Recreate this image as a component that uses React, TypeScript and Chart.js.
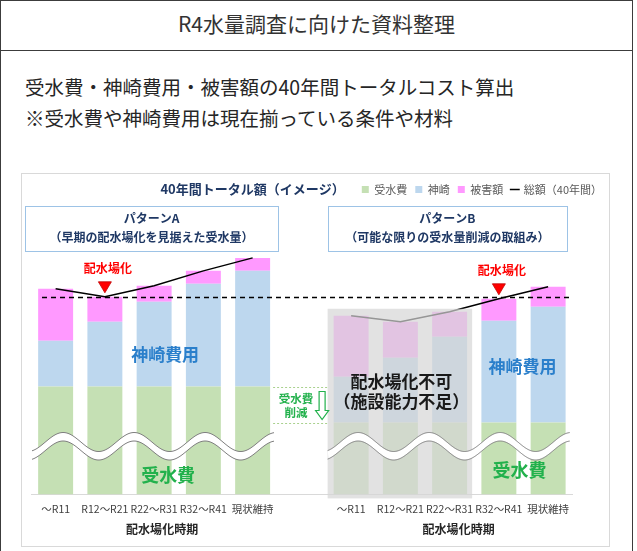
import React, { useEffect, useRef } from "react";
import { Chart, registerables } from "chart.js";

Chart.register(...registerables);

const FONT = "'Noto Sans CJK JP', 'Noto Sans', sans-serif";

// ---- data (image-scale values) ----
const periods = ["～R11", "R12～R21", "R22～R31", "R32～R41", "現状維持", "", "～R11", "R12～R21", "R22～R31", "R32～R41", "現状維持"];
const receivedWaterCost: (number | null)[] = [108, 108, 108, 108, 108, null, 72, 72, 72, 72, 72];
const kanzakiCost: (number | null)[] = [46, 65, 85, 103, 116, null, 46, 65, 86, 102, 116];
const damageCost: (number | null)[] = [52, 25, 16, 13, 13, null, 61, 36, 25, 22, 20];
const totalCost = periods.map((_, i) =>
  receivedWaterCost[i] == null ? null : (receivedWaterCost[i] as number) + (kanzakiCost[i] as number) + (damageCost[i] as number)
);
const seriesNames = ["受水費", "神崎", "被害額", "総額（40年間）"];
const seriesColors = ["#C5E0B4", "#BDD7EE", "#FF99FF", "#000000"];

// ---- texts ----
const pageTitle = "R4水量調査に向けた資料整理";
const pageLines = ["受水費・神崎費用・被害額の40年間トータルコスト算出", "※受水費や神崎費用は現在揃っている条件や材料"];
const chartTitle = "40年間トータル額（イメージ）";
const patternA = ["パターンA", "（早期の配水場化を見据えた受水量）"];
const patternB = ["パターンB", "（可能な限りの受水量削減の取組み）"];
const xAxisTitle = "配水場化時期";
const markerText = "配水場化";
const kanzakiText = "神崎費用";
const waterText = "受水費";
const reductionText = ["受水費", "削減"];
const impossibleText = ["配水場化不可", "（施設能力不足）"];
const markerIndexA = 1;
const markerIndexB = 9;
const blockedRange = [6, 8];

const decorPlugin = {
  id: "decor",
  beforeDraw(chart: any) {
    const { ctx, width, height } = chart;
    ctx.save();
    ctx.fillStyle = "#ffffff";
    ctx.fillRect(0, 0, width, height);
    ctx.strokeStyle = "#d9d9d9";
    ctx.lineWidth = 1;
    ctx.strokeRect(0.5, 0.5, width - 1, height - 1);
    ctx.restore();
  },
  afterDatasetsDraw(chart: any) {
    const { ctx, chartArea: ca } = chart;
    const xs = chart.scales.x;
    const ys = chart.scales.y;
    const px = (i: number) => xs.getPixelForValue(i);
    const py = (v: number) => ys.getPixelForValue(v);
    const barW = chart.getDatasetMeta(0).data[0].width;
    const text = (t: string, x: number, y: number, font: string, color: string, align = "center") => {
      ctx.font = font;
      ctx.fillStyle = color;
      ctx.textAlign = align;
      ctx.textBaseline = "middle";
      ctx.fillText(t, x, y);
    };
    ctx.save();

    // dashed reference line at the A-pattern minimum total
    const yd = Math.round(py(totalCost[markerIndexA] as number)) + 0.5;
    ctx.beginPath();
    ctx.setLineDash([5, 4]);
    ctx.strokeStyle = "#000";
    ctx.lineWidth = 1.3;
    ctx.moveTo(ca.left + 11, yd);
    ctx.lineTo(ca.right, yd);
    ctx.stroke();
    ctx.setLineDash([]);

    // gray overlay on infeasible bars
    const oL = px(blockedRange[0]) - barW / 2 - 6;
    const oR = px(blockedRange[1]) + barW / 2 + 5;
    const maxBlocked = Math.max(...(totalCost.slice(blockedRange[0], blockedRange[1] + 1) as number[]));
    const oT = py(maxBlocked) - 3;
    const oB = ca.bottom + 4;
    ctx.fillStyle = "rgba(214,214,214,0.7)";
    ctx.fillRect(oL, oT, oR - oL, oB - oT);

    // wave (axis break)
    const drawWave = (x0: number, x1: number, xp: number) => {
      const yc = py(52.5);
      const A = 9.5, P = 71, th = 8.5;
      const f = (xx: number) => yc - A * Math.cos((2 * Math.PI * (xx - xp)) / P);
      ctx.beginPath();
      for (let xx = x0; xx <= x1; xx += 1) ctx.lineTo(xx, f(xx));
      for (let xx = x1; xx >= x0; xx -= 1) ctx.lineTo(xx, f(xx) + th);
      ctx.closePath();
      ctx.fillStyle = "#ffffff";
      ctx.fill();
      ctx.strokeStyle = "#7f7f7f";
      ctx.lineWidth = 1;
      ctx.beginPath();
      for (let xx = x0; xx <= x1; xx += 1) ctx.lineTo(xx, f(xx));
      ctx.stroke();
      ctx.beginPath();
      for (let xx = x0; xx <= x1; xx += 1) ctx.lineTo(xx, f(xx) + th);
      ctx.stroke();
    };
    drawWave(ca.left + 1, px(4) + barW / 2 + 4, px(0) + 7.5);
    drawWave(oL, px(10) + barW / 2 + 5, px(6) + 7);

    // red markers
    const marker = (i: number) => {
      const cx = px(i);
      const tip = py(totalCost[i] as number) - 4;
      ctx.beginPath();
      ctx.moveTo(cx - 6.5, tip - 11);
      ctx.lineTo(cx + 6.5, tip - 11);
      ctx.lineTo(cx, tip);
      ctx.closePath();
      ctx.fillStyle = "#ff0000";
      ctx.fill();
      ctx.strokeStyle = "#c00000";
      ctx.lineWidth = 0.8;
      ctx.stroke();
      text(markerText, cx + 3, tip - 24, `bold 12px ${FONT}`, "#ff0000");
    };
    marker(markerIndexA);
    marker(markerIndexB);

    // reduction box
    const gL = px(4) + barW / 2 + 3;
    const gR = oL;
    const gT = Math.round(py(receivedWaterCost[4] as number)) + 0.5;
    const gB = Math.round(py(receivedWaterCost[6] as number)) + 0.5;
    ctx.setLineDash([2, 2]);
    ctx.strokeStyle = "#a9d18e";
    ctx.lineWidth = 1;
    ctx.beginPath();
    ctx.moveTo(gL, gT);
    ctx.lineTo(gR, gT);
    ctx.moveTo(gL, gB);
    ctx.lineTo(gR, gB);
    ctx.stroke();
    ctx.setLineDash([]);
    text(reductionText[0], gL + 23, gT + 11, `bold 11.5px ${FONT}`, "#22b14c");
    text(reductionText[1], gL + 23, gT + 25, `bold 11.5px ${FONT}`, "#22b14c");
    const ax = gL + 49, aT = gT + 4, aS = gT + 23, aTip = gB - 4;
    ctx.beginPath();
    ctx.moveTo(ax - 3, aT);
    ctx.lineTo(ax + 3, aT);
    ctx.lineTo(ax + 3, aS);
    ctx.lineTo(ax + 6.5, aS);
    ctx.lineTo(ax, aTip);
    ctx.lineTo(ax - 6.5, aS);
    ctx.lineTo(ax - 3, aS);
    ctx.closePath();
    ctx.fillStyle = "#ffffff";
    ctx.fill();
    ctx.strokeStyle = "#22b14c";
    ctx.lineWidth = 1.2;
    ctx.stroke();

    // pattern boxes
    const box = (l: number, r: number, lines: string[]) => {
      const t = ca.top + 1.5, h = 45;
      ctx.fillStyle = "#ffffff";
      ctx.fillRect(l, t, r - l, h);
      ctx.strokeStyle = "#9dc3e6";
      ctx.lineWidth = 1;
      ctx.strokeRect(Math.round(l) + 0.5, t, Math.round(r - l), h);
      text(lines[0], (l + r) / 2, t + 12, `bold 12px ${FONT}`, "#1f3864");
      text(lines[1], (l + r) / 2, t + 31, `bold 12px ${FONT}`, "#1f3864");
    };
    box(ca.left - 6, px(4) + barW / 2 + 8, patternA);
    box(oL, px(10) + barW / 2 + 1.5, patternB);

    // big labels
    text(kanzakiText, px(2) + 11, py(140), `bold 17px ${FONT}`, "#2a7fcb");
    text(kanzakiText, (px(9) + px(10)) / 2 - 1, py(128), `bold 17px ${FONT}`, "#2a7fcb");
    text(waterText, px(2) + 14, py(19), `bold 18px ${FONT}`, "#22b14c");
    text(waterText, (px(9) + px(10)) / 2 - 4, py(24), `bold 18px ${FONT}`, "#22b14c");
    const midBlocked = (px(blockedRange[0]) + px(blockedRange[1])) / 2 + 1;
    text(impossibleText[0], midBlocked, py(113), `bold 17px ${FONT}`, "#1a1a1a");
    text(impossibleText[1], midBlocked, py(93), `bold 17px ${FONT}`, "#1a1a1a");

    // axis titles
    text(xAxisTitle, (px(0) + px(4)) / 2 + 8, ca.bottom + 35, `bold 12px ${FONT}`, "#262626");
    text(xAxisTitle, (px(6) + px(10)) / 2 + 9, ca.bottom + 35, `bold 12px ${FONT}`, "#262626");

    // chart title left of legend
    const hbs = chart.legend && chart.legend.legendHitBoxes;
    if (hbs && hbs.length) {
      const minLeft = Math.min(...hbs.map((h: any) => h.left));
      const hb = hbs[0];
      text(chartTitle, minLeft - 17, hb.top + hb.height / 2, `bold 13px ${FONT}`, "#1f3864", "right");
    }
    ctx.restore();
  },
};

function BarChart() {
  const ref = useRef<HTMLCanvasElement | null>(null);
  useEffect(() => {
    if (!ref.current) return;
    Chart.defaults.font.family = FONT;
    const chart = new Chart(ref.current, {
      type: "bar",
      data: {
        labels: periods,
        datasets: [
          { label: seriesNames[0], data: receivedWaterCost, backgroundColor: seriesColors[0], order: 1, stack: "s" },
          { label: seriesNames[1], data: kanzakiCost, backgroundColor: seriesColors[1], order: 1, stack: "s" },
          { label: seriesNames[2], data: damageCost, backgroundColor: seriesColors[2], order: 1, stack: "s" },
          {
            type: "line",
            label: seriesNames[3],
            data: totalCost,
            borderColor: seriesColors[3],
            backgroundColor: seriesColors[3],
            borderWidth: 1.5,
            pointRadius: 0,
            tension: 0,
            spanGaps: false,
            order: 0,
            stack: "total",
          } as any,
        ],
      },
      options: {
        responsive: false,
        animation: false,
        layout: { padding: { top: 3, left: 10, right: 0, bottom: 24 } },
        datasets: { bar: { categoryPercentage: 1, barPercentage: 0.71 } } as any,
        plugins: {
          tooltip: { enabled: false },
          title: { display: false },
          legend: {
            display: true,
            position: "top",
            align: "end",
            labels: {
              usePointStyle: true,
              boxWidth: 7,
              boxHeight: 7,
              padding: 8,
              color: "#595959",
              font: { size: 11, family: FONT },
              sort: (a: any, b: any) => a.datasetIndex - b.datasetIndex,
              generateLabels: (c: any) => {
                const items = (Chart.defaults.plugins.legend.labels as any).generateLabels(c);
                return items.map((it: any) => {
                  const ds: any = c.data.datasets[it.datasetIndex];
                  if (ds.type === "line") {
                    it.pointStyle = "line";
                    it.lineWidth = 1.5;
                    it.strokeStyle = "#000";
                  } else {
                    it.pointStyle = "rect";
                    it.lineWidth = 0;
                  }
                  return it;
                });
              },
            },
          },
        },
        scales: {
          x: {
            stacked: true,
            grid: { display: false, drawTicks: false },
            border: { display: true, color: "#d9d9d9", width: 1 },
            ticks: {
              autoSkip: false,
              maxRotation: 0,
              minRotation: 0,
              padding: 8,
              color: "#404040",
              font: { size: 10.5, family: FONT },
            },
          },
          y: { stacked: true, min: 0, max: 290, display: false },
          yPad: {
            type: "linear",
            position: "right",
            display: true,
            grid: { display: false, drawTicks: false },
            border: { display: false },
            ticks: { display: false },
            afterFit: (s: any) => {
              s.width = 37.25;
            },
          },
        } as any,
      },
      plugins: [decorPlugin],
    });
    return () => chart.destroy();
  }, []);
  return <canvas ref={ref} width={589} height={374} style={{ position: "absolute", left: 21, top: 173 }} />;
}

export default function App() {
  return (
    <div
      style={{
        position: "fixed",
        left: 0,
        top: 0,
        width: 637,
        height: 551,
        background: "#fff",
        overflow: "hidden",
        fontFamily: FONT,
      }}
    >
      <div
        style={{
          position: "absolute",
          left: 0,
          top: 0,
          width: 633,
          height: 570,
          border: "1.5px solid #3c3c3c",
          boxSizing: "border-box",
        }}
      />
      <div style={{ position: "absolute", left: 0, top: 50, width: 633, borderTop: "1.5px solid #3c3c3c" }} />
      <div
        style={{
          position: "absolute",
          left: 0,
          top: 0,
          width: 633,
          height: 45,
          display: "flex",
          alignItems: "center",
          justifyContent: "center",
          fontSize: 21,
          color: "#333",
        }}
      >
        {pageTitle}
      </div>
      <div style={{ position: "absolute", left: 25, top: 71, fontSize: 19.5, lineHeight: "31px", color: "#262626", whiteSpace: "nowrap" }}>
        {pageLines.map((l, i) => (
          <div key={i}>{l}</div>
        ))}
      </div>
      <BarChart />
    </div>
  );
}
